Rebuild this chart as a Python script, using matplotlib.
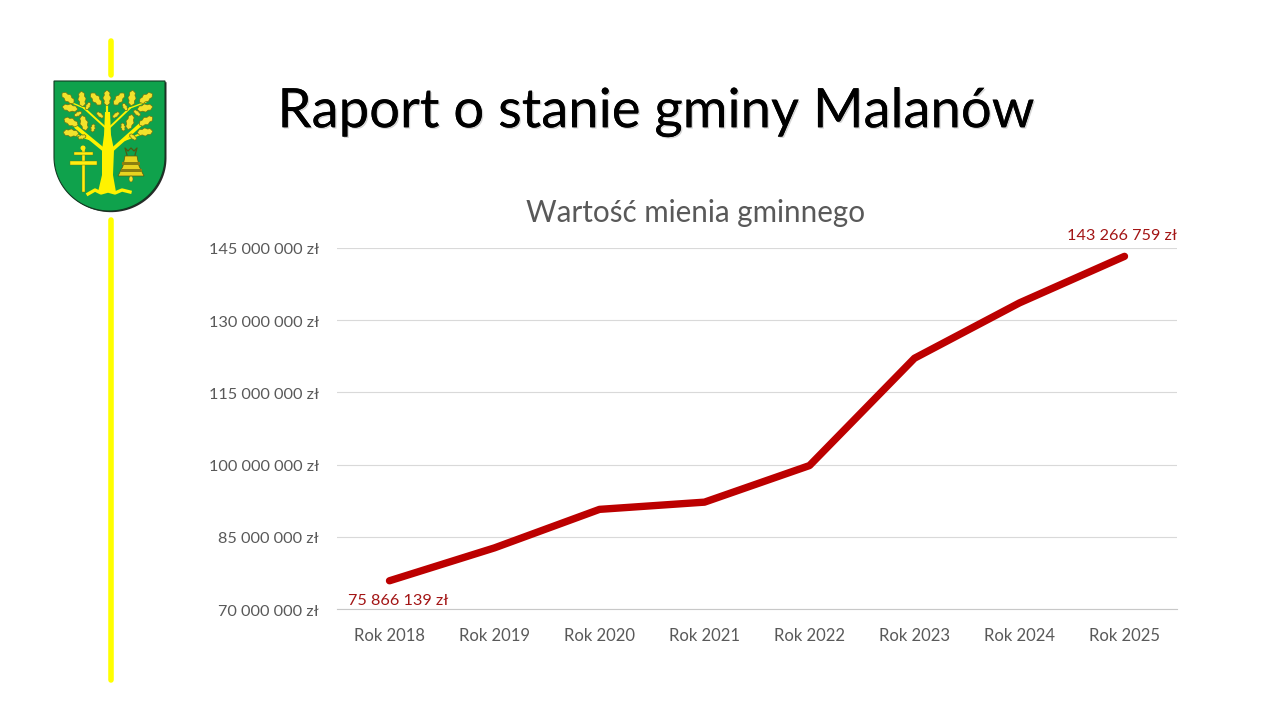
import numpy as np
import matplotlib
matplotlib.use("Agg")
import matplotlib.pyplot as plt
from matplotlib.patches import Polygon, Ellipse, Rectangle
from matplotlib.ticker import FuncFormatter
from matplotlib.transforms import ScaledTranslation
import matplotlib.patheffects as pe

years = ["Rok 2018", "Rok 2019", "Rok 2020", "Rok 2021", "Rok 2022", "Rok 2023", "Rok 2024", "Rok 2025"]
values = [75866139, 82700000, 90700000, 92200000, 99800000, 122100000, 133600000, 143266759]
first_label = "75 866 139 zł"
last_label = "143 266 759 zł"
y_ticks = [70000000, 85000000, 100000000, 115000000, 130000000, 145000000]

plt.rcParams["font.family"] = ["Lato", "DejaVu Sans"]
GREY = "#595959"
RED = "#BC0000"
LABEL_RED = "#A31515"
W, H = 1280, 720


def money(v, pos=None):
    return f"{int(v):,}".replace(",", " ") + " zł"


def leaf(deco, x, y, w, h, angle):
    # lobed oak leaf, pixel coordinates
    t = np.linspace(0, 2 * np.pi, 60)
    lobes = 1 + 0.16 * np.cos(8 * t)
    px = w / 2 * np.cos(t)
    py = h / 2 * np.sin(t) * lobes
    a = np.radians(angle)
    xs = x + px * np.cos(a) - py * np.sin(a)
    ys = y + px * np.sin(a) + py * np.cos(a)
    deco.add_patch(Polygon(np.column_stack([xs, ys]), fc="#F2E32C", ec="#6E7412", lw=0.5, zorder=6))


def draw_logo(deco):
    t = np.linspace(0, np.pi, 60)
    xs = 109.5 + 55.5 * np.cos(t)
    ys = 157 + 54 * np.sin(t)
    pts = [(54, 81), (165, 81)] + list(zip(xs, ys))
    deco.add_patch(Polygon([(x + 1.5, y + 1.2) for x, y in pts], fc="#2A2A2A", ec="none", zorder=3))
    deco.add_patch(Polygon(pts, fc="#0FA24C", ec="#123A22", lw=0.8, zorder=4))

    yellow = "#FFF200"
    deco.add_patch(Polygon([(105, 112), (110, 112), (111, 135), (114, 150), (113, 175), (116, 192), (98, 192), (102, 175),
                            (102, 150), (104, 135)], fc=yellow, ec="none", zorder=5))
    for x0, y0, x1, y1, lw in [(104, 150, 76, 127, 2.6), (112, 150, 140, 125, 2.6), (76, 127, 66, 122, 1.2), (140, 125, 150, 120, 1.2),
                               (92, 140, 70, 133, 1.4), (122, 141, 146, 132, 1.4), (106, 128, 84, 108, 1.4),
                               (109, 128, 130, 108, 1.4), (107, 112, 107, 100, 1.6), (84, 108, 70, 102, 1),
                               (130, 108, 146, 102, 1)]:
        deco.plot([x0, x1], [y0, y1], color=yellow, lw=lw, solid_capstyle="round", zorder=5)
    deco.plot([88, 95, 101, 108, 115, 122, 130], [194, 190, 193, 191, 193, 190, 192], color=yellow, lw=2.4, zorder=5)

    for lx, ly, a in [(68, 98, 40), (82, 99, 85), (96, 99, 50), (107, 98, 90), (119, 99, 130), (132, 98, 95), (146, 98, 145),
                      (70, 108, 10), (145, 108, 170), (71, 122, 25), (84, 123, 75), (130, 122, 105), (146, 121, 150),
                      (71, 133, 5), (145, 132, 175)]:
        leaf(deco, lx, ly, 15, 7, a)
    for lx, ly, a in [(78, 114, 150), (88, 106, 120), (100, 115, 40), (116, 115, 140), (125, 107, 60), (137, 113, 40),
                      (82, 137, 165), (93, 128, 100), (123, 127, 80), (133, 137, 40)]:
        leaf(deco, lx, ly, 8, 4, a)

    # cross
    for rx, ry, rw, rh in [(81.5, 146, 3.5, 46), (73.5, 152, 19, 3), (70, 161, 27, 3.5)]:
        deco.add_patch(Rectangle((rx, ry), rw, rh, fc="#FFEE10", ec="#6E7412", lw=0.3, zorder=5))
    deco.add_patch(Ellipse((83, 148), 5, 5, fc="#FFEE10", ec="none", zorder=5))

    # bell
    deco.add_patch(Polygon([(125, 156), (137, 156), (139, 166), (144, 176), (118, 176), (123, 166)],
                           fc="#E8D420", ec="#5A5A10", lw=0.5, zorder=5))
    deco.add_patch(Rectangle((122, 162), 18, 3, fc="#8A7F10", ec="none", zorder=6))
    deco.add_patch(Rectangle((120.5, 169), 21, 2.5, fc="#8A7F10", ec="none", zorder=6))
    deco.add_patch(Ellipse((131, 179), 4, 6, fc="#F2E32C", ec="#5A5A10", lw=0.3, zorder=5))
    deco.plot([127, 125, 128, 131, 134, 137, 135], [155, 148, 151, 148, 151, 148, 155], color="#4E5A10", lw=0.9, zorder=5)


fig = plt.figure(figsize=(W / 100, H / 100), dpi=100, facecolor="white")

deco = fig.add_axes([0, 0, 1, 1])
deco.set_xlim(0, W)
deco.set_ylim(H, 0)
deco.axis("off")
deco.plot([110.5, 110.5], [41, 75], color="#FFFF00", lw=4, solid_capstyle="round")
deco.plot([110.5, 110.5], [220, 680], color="#FFFF00", lw=4, solid_capstyle="round")
draw_logo(deco)

deco.text(655.5, 112, "Raport o stanie gminy Malanów", fontsize=39.2, color="black", ha="center", va="center",
          path_effects=[pe.withSimplePatchShadow(offset=(1, -1), shadow_rgbFace="#BBBBBB", alpha=0.6), pe.Normal()])
deco.text(695.5, 213, "Wartość mienia gminnego", fontsize=21.3, color=GREY, ha="center", va="center")

ax = fig.add_axes([337 / W, 1 - 609 / H, 840 / W, 361 / H])
ax.patch.set_alpha(0)
x = np.arange(len(years))
ax.plot(x, values, color=RED, lw=5.3, solid_capstyle="round", solid_joinstyle="round", zorder=3)
ax.set_xlim(-0.5, len(years) - 0.5)
ax.set_ylim(y_ticks[0], y_ticks[-1])
ax.set_xticks(x, years)
ax.set_yticks(y_ticks)
ax.yaxis.set_major_formatter(FuncFormatter(money))
ax.grid(axis="y", color="#D9D9D9", lw=0.8)
ax.set_axisbelow(True)
for side in ["top", "right", "left"]:
    ax.spines[side].set_visible(False)
ax.spines["bottom"].set_color("#C8C8C8")
ax.spines["bottom"].set_linewidth(0.8)
ax.tick_params(axis="y", length=0, labelsize=11.7, labelcolor=GREY, pad=13)
ax.tick_params(axis="x", length=0, labelsize=12, labelcolor=GREY, pad=14)
nudge = ScaledTranslation(0, -1 / 100, fig.dpi_scale_trans)
for lab in ax.get_yticklabels():
    lab.set_transform(lab.get_transform() + nudge)
ax.annotate(first_label, (x[0], values[0]), xytext=(6.5, -14.5), textcoords="offset points", ha="center", va="center",
            fontsize=11.7, color=LABEL_RED)
ax.annotate(last_label, (x[-1], values[-1]), xytext=(-2, 14.5), textcoords="offset points", ha="center", va="center",
            fontsize=11.7, color=LABEL_RED, annotation_clip=False)

fig.savefig("out.png", dpi=100)
